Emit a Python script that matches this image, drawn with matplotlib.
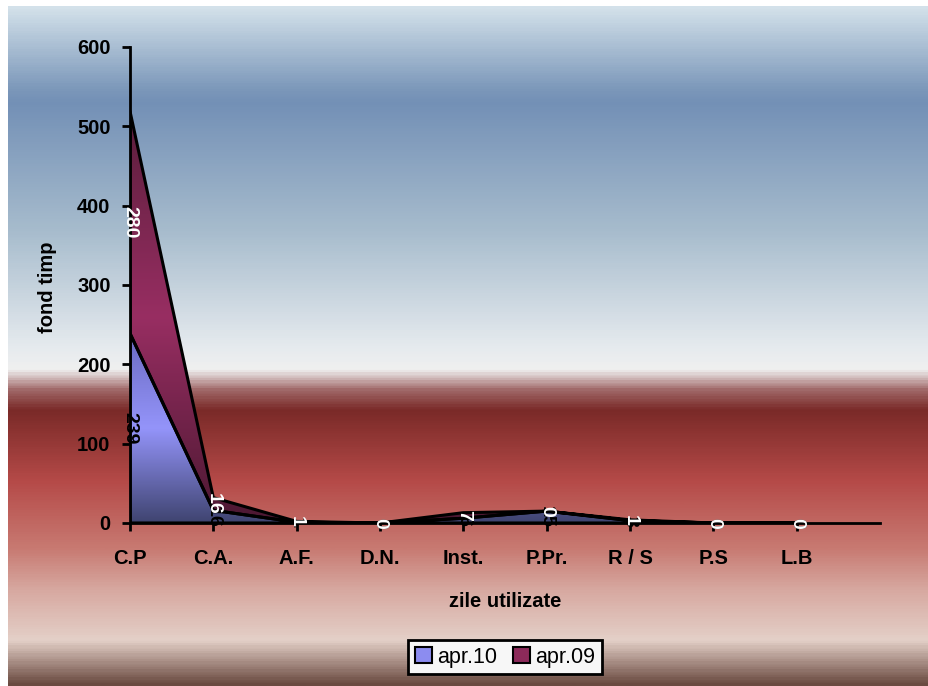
import numpy as np
import matplotlib
matplotlib.use("Agg")
import matplotlib.pyplot as plt
from matplotlib.colors import LinearSegmentedColormap
from matplotlib.patches import Patch

categories = ["C.P", "C.A.", "A.F.", "D.N.", "Inst.", "P.Pr.", "R / S", "P.S", "L.B"]
apr10 = [239, 16, 1, 0, 6, 15, 3, 0, 0]
apr09 = [280, 16, 1, 0, 7, 0, 1, 0, 0]
series_names = ["apr.10", "apr.09"]
yticks = [0, 100, 200, 300, 400, 500, 600]

plt.rcParams['font.family'] = ['Liberation Sans', 'DejaVu Sans']

W, H = 929, 686
fig = plt.figure(figsize=(W / 100, H / 100), dpi=100)

# background gradient
bg = fig.add_axes([8 / W, 0, 1 - 8 / W, 1 - 6 / H])
bg.set_axis_off()
stops = [
    (0.0, "#d3e1ea"), (0.12, "#7c98ba"), (0.14, "#7390b6"), (0.33, "#a7bccd"),
    (0.50, "#e5eaee"), (0.535, "#f0f0f0"), (0.565, "#a06868"), (0.595, "#7a2a28"),
    (0.70, "#b54a48"), (0.80, "#c87a72"), (0.86, "#d7a8a0"), (0.935, "#e4d0c8"),
    (1.0, "#6a4a40"),
]
cmap_bg = LinearSegmentedColormap.from_list("bg", stops)
grad = np.linspace(0, 1, 600).reshape(-1, 1)
bg.imshow(grad, aspect="auto", cmap=cmap_bg, extent=[0, 1, 0, 1], origin="upper")
bg.set_xlim(0, 1)
bg.set_ylim(0, 1)

ax = fig.add_axes([130 / W, (H - 523) / H, (880 - 130) / W, (523 - 47) / H])
ax.patch.set_alpha(0)

x = np.arange(len(categories))
a10 = np.array(apr10, dtype=float)
a09 = np.array(apr09, dtype=float)
top = a10 + a09

blue_cmap = LinearSegmentedColormap.from_list("b", ["#3f4470", "#9494fa", "#6a6ac0"])
maroon_cmap = LinearSegmentedColormap.from_list("m", ["#4c1832", "#982e62", "#5a1e3c"])

def grad_fill(y1, y2, cmap, z):
    poly = ax.fill_between(x, y1, y2, facecolor="none", edgecolor="black", lw=2.2, zorder=z + 1)
    ymin, ymax = 0, max(y2)
    g = np.linspace(0, 1, 300).reshape(-1, 1)
    im = ax.imshow(g, aspect="auto", cmap=cmap, extent=[0, x[-1], ymin, ymax],
                   origin="lower", zorder=z)
    im.set_clip_path(poly.get_paths()[0], transform=ax.transData)
    return poly

grad_fill(np.zeros_like(a10), a10, blue_cmap, 2)
grad_fill(a10, top, maroon_cmap, 2)

ax.set_xlim(0, len(categories))
ax.set_ylim(0, 600)
ax.set_yticks(yticks)
ax.set_xticks(x)
ax.set_xticklabels(categories)
for s in ["top", "right"]:
    ax.spines[s].set_visible(False)
for s in ["left", "bottom"]:
    ax.spines[s].set_linewidth(2)
ax.tick_params(axis="both", direction="out", length=6, width=2, labelsize=14.5)
for lab in ax.get_xticklabels() + ax.get_yticklabels():
    lab.set_fontweight("bold")
ax.tick_params(axis="x", pad=13)
ax.tick_params(axis="y", pad=8)

# data labels
for i in range(len(categories)):
    ax.text(x[i], a10[i] / 2, f"{apr10[i]}", rotation=-90, ha="center", va="center",
            color="black", fontsize=14, fontweight="bold", zorder=6)
for i in range(len(categories)):
    ax.text(x[i], a10[i] + a09[i] / 2, f"{apr09[i]}", rotation=-90, ha="center", va="center",
            color="white", fontsize=14, fontweight="bold", zorder=7)

ax.set_ylabel("fond timp", fontsize=14.5, fontweight="bold")
ax.set_xlabel("zile utilizate", fontsize=14.5, fontweight="bold")
ax.yaxis.set_label_coords((57 - 130) / 750, (523 - 287) / 476)
ax.xaxis.set_label_coords((505 - 130) / 750, (523 - 592) / 476)

handles = [Patch(facecolor="#8c8cf0", edgecolor="black", lw=1.5),
           Patch(facecolor="#8c2a5a", edgecolor="black", lw=1.5)]
leg = fig.legend(handles, series_names, loc="center", bbox_to_anchor=(505 / W, (H - 657) / H),
                 ncol=2, frameon=True, fancybox=False, fontsize=15.5, handlelength=0.8,
                 handleheight=0.8, handletextpad=0.25, columnspacing=0.7, borderpad=0.3)
leg.get_frame().set_edgecolor("black")
leg.get_frame().set_linewidth(2)
leg.get_frame().set_facecolor("#f7f7f7")
leg.get_frame().set_alpha(1)

fig.savefig("out.png", dpi=100)
